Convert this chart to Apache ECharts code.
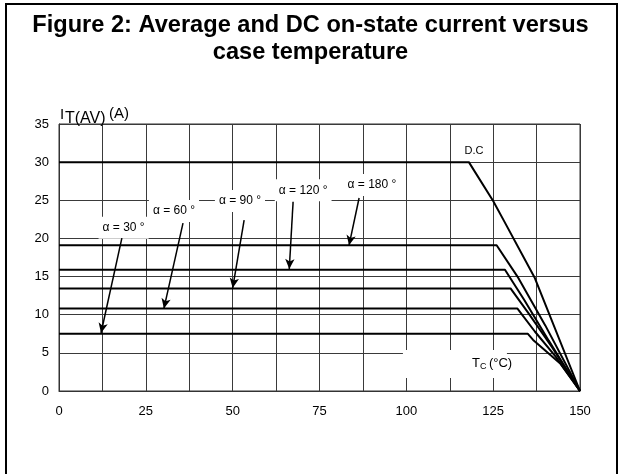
<!DOCTYPE html>
<html><head><meta charset="utf-8">
<script src="https://cdn.jsdelivr.net/npm/echarts@6/dist/echarts.min.js"></script>
<style>html,body{margin:0;padding:0;background:#fff}#c{width:621px;height:474px}</style>
</head><body><div id="c"></div>
<script>
// ---- data ----
const xTickValues = [0, 25, 50, 75, 100, 125, 150];
const yTickValues = [0, 5, 10, 15, 20, 25, 30, 35];
const curveNames = ['D.C', 'α = 180 °', 'α = 120 °', 'α = 90 °', 'α = 60 °', 'α = 30 °'];
const dcCurve   = [[0, 30], [118, 30], [125, 24.9], [128, 22.4], [137, 14.8], [150, 0]];
const a180Curve = [[0, 19.1], [126, 19.1], [132, 15], [140, 8.6], [150, 0]];
const a120Curve = [[0, 15.9], [128.4, 15.9], [134, 11.9], [141, 6.6], [150, 0]];
const a90Curve  = [[0, 13.45], [130, 13.45], [135, 10.3], [142, 5.7], [150, 0]];
const a60Curve  = [[0, 10.8], [132, 10.8], [137, 7.8], [143, 4.5], [150, 0]];
const a30Curve  = [[0, 7.5], [135, 7.5], [136.5, 6.7], [144.3, 3.6], [150, 0]];
const angleLabels = ['α = 30 °', 'α = 60 °', 'α = 90 °', 'α = 120 °', 'α = 180 °'];
const angleLabelAt = [[18.6, 21.4], [33.1, 23.6], [52.1, 24.9], [70.3, 26.3], [90.1, 27.0]];
const arrowFrom = [[18.1, 20.05], [35.7, 22.0], [53.3, 22.4], [67.4, 24.8], [86.4, 25.3]];
const arrowTo   = [[12.1, 7.6], [30.2, 10.8], [50, 13.5], [66.3, 16], [83.5, 19.1]];
const dcLabelAt = [119.5, 31.5];
const tcLabelAt = [113.7, 3.55];

const FONT = '"Liberation Sans", Arial, sans-serif';
const chart = echarts.init(document.getElementById('c'));
const curves = [dcCurve, a180Curve, a120Curve, a90Curve, a60Curve, a30Curve];

const series = curves.map((d, i) => ({
  name: curveNames[i], type: 'line', data: d, symbol: 'none', silent: true,
  lineStyle: { color: '#000', width: 2 }, z: 3
}));
series[0].markLine = {
  silent: true, symbol: ['none', 'arrow'], symbolSize: [7, 10], animation: false,
  lineStyle: { color: '#000', width: 1.5, type: 'solid' }, label: { show: false },
  emphasis: { disabled: true },
  data: arrowFrom.map((f, i) => [{ coord: f }, { coord: arrowTo[i] }])
};

const axisCommon = {
  type: 'value',
  axisLine: { show: true, lineStyle: { color: '#333', width: 1 } },
  axisTick: { show: false },
  splitLine: { show: true, lineStyle: { color: '#3a3a3a', width: 1 } }
};

chart.setOption({
  animation: false,
  backgroundColor: '#fff',
  title: {
    text: 'Figure 2: Average and DC on-state current versus\ncase temperature',
    left: 'center', top: 7,
    textStyle: { fontFamily: FONT, fontSize: 23.6, fontWeight: 'bold', color: '#000', lineHeight: 27 }
  },
  grid: { left: 59, right: 41, top: 124, bottom: 83, show: true, borderColor: '#333', borderWidth: 1 },
  xAxis: Object.assign({}, axisCommon, {
    min: 0, max: 150, interval: 12.5,
    axisLabel: { fontFamily: FONT, fontSize: 13, color: '#000', margin: 14,
      formatter: v => xTickValues.includes(v) ? String(v) : '' }
  }),
  yAxis: Object.assign({}, axisCommon, {
    min: 0, max: 35, interval: 5,
    axisLabel: { fontFamily: FONT, fontSize: 13, color: '#000', margin: 10,
      formatter: v => yTickValues.includes(v) ? String(v) : '' }
  }),
  series: series
});

const px = p => chart.convertToPixel({ gridIndex: 0 }, p);
const g = [];
angleLabels.forEach((t, i) => {
  const p = px(angleLabelAt[i]);
  g.push({ type: 'text', x: p[0], y: p[1], z: 1, silent: true,
    style: { text: t, font: '12px ' + FONT, fill: '#000', align: 'center', verticalAlign: 'middle',
      backgroundColor: '#fff', padding: [5, 4] } });
});
const pd = px(dcLabelAt);
g.push({ type: 'text', x: pd[0], y: pd[1], z: 1, silent: true,
  style: { text: 'D.C', font: '11px ' + FONT, fill: '#000', align: 'center', verticalAlign: 'middle' } });
const pt = px(tcLabelAt);
g.push({ type: 'rect', z: 1, silent: true, shape: { x: pt[0] - 51, y: pt[1] - 14, width: 104, height: 28 },
  style: { fill: '#fff' } });
g.push({ type: 'text', x: pt[0] + 18, y: pt[1], z: 1, silent: true,
  style: { text: 'T', font: '13px ' + FONT, fill: '#000', align: 'left', verticalAlign: 'middle' } });
g.push({ type: 'text', x: pt[0] + 26, y: pt[1] + 3, z: 1, silent: true,
  style: { text: 'C', font: '9px ' + FONT, fill: '#000', align: 'left', verticalAlign: 'middle' } });
g.push({ type: 'text', x: pt[0] + 35, y: pt[1], z: 1, silent: true,
  style: { text: '(°C)', font: '13px ' + FONT, fill: '#000', align: 'left', verticalAlign: 'middle' } });
const pa = px([0, 35]);
g.push({ type: 'text', x: pa[0] + 1, y: pa[1] - 17, z: 1, silent: true,
  style: { text: 'I', font: '15px ' + FONT, fill: '#000', align: 'left', verticalAlign: 'top' } });
g.push({ type: 'text', x: pa[0] + 6, y: pa[1] - 13, z: 1, silent: true,
  style: { text: 'T(AV)', font: '16px ' + FONT, fill: '#000', align: 'left', verticalAlign: 'top' } });
g.push({ type: 'text', x: pa[0] + 50, y: pa[1] - 18, z: 1, silent: true,
  style: { text: '(A)', font: '15px ' + FONT, fill: '#000', align: 'left', verticalAlign: 'top' } });
g.push({ type: 'rect', z: 10, silent: true, shape: { x: 6, y: 4, width: 611, height: 520 },
  style: { fill: 'none', stroke: '#000', lineWidth: 2 } });
chart.setOption({ graphic: g });
</script></body></html>
